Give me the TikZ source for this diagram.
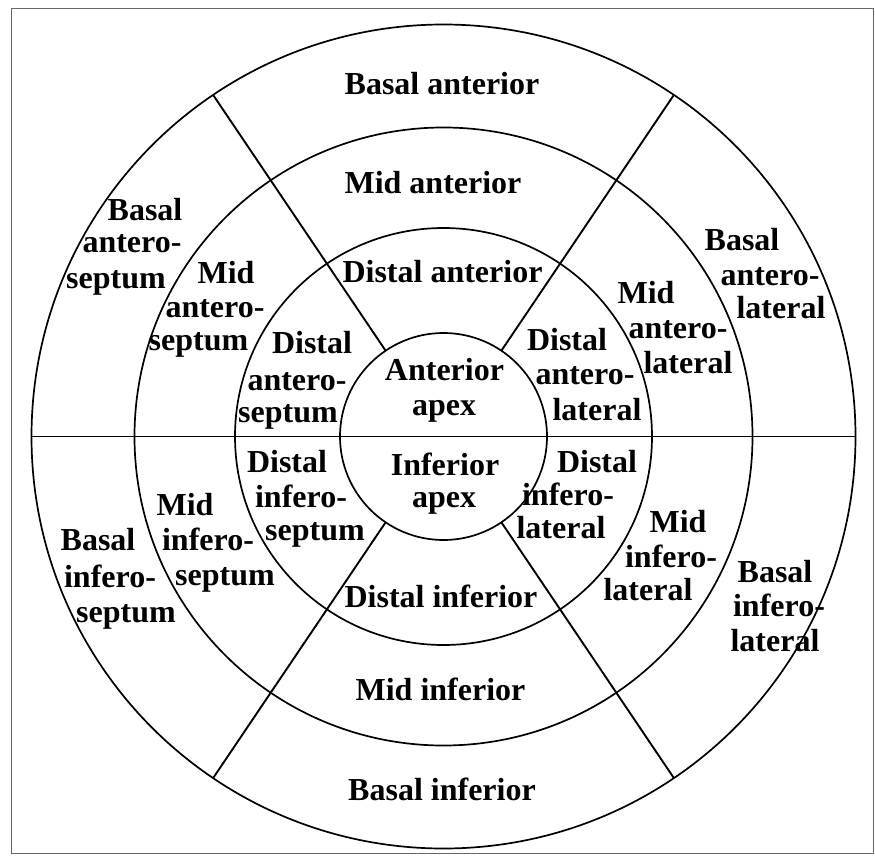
\documentclass[tikz,border=0pt]{standalone}
\usepackage{fontspec}
\setmainfont{Liberation Serif}
\begin{document}
\begin{tikzpicture}[x=1pt,y=-1pt,
  ring/.style={draw, circle, inner sep=0pt, outer sep=0pt, line width=1.7pt},
  seg/.style={line width=1.9pt},
  lbl/.style={anchor=base, inner sep=0pt, font=\bfseries\fontsize{32}{34}\selectfont}]
\useasboundingbox (0,0) rectangle (875,856);
\draw[black!60, line width=0.8pt] (11.5,8.5) rectangle (873,853);
\coordinate (c) at (443.5,436.5);
\node[ring, minimum size=824pt] (r4) at (c) {};
\node[ring, minimum size=618pt] (r3) at (c) {};
\node[ring, minimum size=417pt] (r2) at (c) {};
\node[ring, minimum size=207pt] (r1) at (c) {};
% segment boundaries
\draw[seg] (r4.west) -- (r4.east);
\draw[seg] (r1.56) -- (r4.56);
\draw[seg] (r1.124) -- (r4.124);
\draw[seg] (r1.236) -- (r4.236);
\draw[seg] (r1.304) -- (r4.304);
% anterior column
\node[lbl] (ba) at (442,95) {Basal anterior};
\node[lbl] (ma) at (433,193) {Mid anterior};
\node[lbl] (da) at (442.5,282) {Distal anterior};
\node[lbl] (aa1) at (444.5,380) {Anterior};
\node[lbl] (aa2) at (444,415) {apex};
\node[lbl] (ia1) at (445,475) {Inferior};
\node[lbl] (ia2) at (444,507) {apex};
\node[lbl] (di) at (441,607) {Distal inferior};
\node[lbl] (mi) at (440.5,700) {Mid inferior};
\node[lbl] (bi) at (442,800) {Basal inferior};
% antero-septum
\node[lbl] (bas1) at (145,220) {Basal};
\node[lbl] (bas2) at (132,252) {antero-};
\node[lbl] (bas3) at (116,288) {septum};
\node[lbl] (mas1) at (226,283) {Mid};
\node[lbl] (mas2) at (215,317) {antero-};
\node[lbl] (mas3) at (198.5,350) {septum};
\node[lbl] (das1) at (312,353) {Distal};
\node[lbl] (das2) at (297,390) {antero-};
\node[lbl] (das3) at (288,422) {septum};
% antero-lateral
\node[lbl] (dal1) at (567,350) {Distal};
\node[lbl] (dal2) at (585,384) {antero-};
\node[lbl] (dal3) at (597,420) {lateral};
\node[lbl] (mal1) at (646,303) {Mid};
\node[lbl] (mal2) at (678,338) {antero-};
\node[lbl] (mal3) at (688,373) {lateral};
\node[lbl] (bal1) at (742,250) {Basal};
\node[lbl] (bal2) at (770,285) {antero-};
\node[lbl] (bal3) at (781,318) {lateral};
% infero-septum
\node[lbl] (bis1) at (98,550) {Basal};
\node[lbl] (bis2) at (110,587) {infero-};
\node[lbl] (bis3) at (126,622) {septum};
\node[lbl] (mis1) at (185,515) {Mid};
\node[lbl] (mis2) at (208,550) {infero-};
\node[lbl] (mis3) at (225,585) {septum};
\node[lbl] (dis1) at (287,472) {Distal};
\node[lbl] (dis2) at (301,507) {infero-};
\node[lbl] (dis3) at (315,540) {septum};
% infero-lateral
\node[lbl] (dil1) at (597,472) {Distal};
\node[lbl] (dil2) at (568,505) {infero-};
\node[lbl] (dil3) at (561,538) {lateral};
\node[lbl] (mil1) at (678,532) {Mid};
\node[lbl] (mil2) at (671,567) {infero-};
\node[lbl] (mil3) at (648,600) {lateral};
\node[lbl] (bil1) at (775,582) {Basal};
\node[lbl] (bil2) at (779,616) {infero-};
\node[lbl] (bil3) at (775,651) {lateral};
\end{tikzpicture}
\end{document}
